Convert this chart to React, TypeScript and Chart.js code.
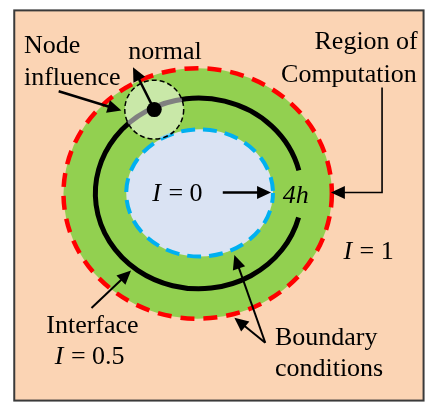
import React, { useEffect, useRef } from "react";
import { Chart, registerables } from "chart.js";

Chart.register(...registerables);

const W = 433;
const H = 410;

// Ellipses: region of computation, interface (I = 0.5), inner region (I = 0)
const ellipseNames = ["Region of Computation", "Interface", "Inner"];
const ellipseCx = [197, 198, 199];
const ellipseCy = [193, 193, 192.5];
const ellipseRx = [139, 107, 76];
const ellipseRy = [130, 99, 66];

// Gap in the interface line (parametric angles, radians) for the "4h" label
const interfaceGap = [-0.245, 0.255];

// Node of influence
const nodeX = [152];
const nodeY = [106];
const nodeR = [30.5];

// Arrows
const arrowNames = ["Node influence", "normal", "Region of Computation", "4h", "Interface", "Boundary outer", "Boundary inner"];
const arrowFromX = [53, 152, 388, 223, 87, 267, 267];
const arrowFromY = [87, 106, 83, 192, 312, 348, 348];
const arrowElbowX = [null, null, 388, null, null, null, null];
const arrowElbowY = [null, null, 192, null, null, null, null];
const arrowToX = [118, 130, 335, 273, 128, 235, 235];
const arrowToY = [107, 62, 192, 192, 273, 322, 257];
const arrowWidth = [2.5, 2.5, 1.6, 2.5, 2, 2, 2];

// Labels
const labelTexts = ["Node", "influence", "normal", "Region of", "Computation", "I", " = 0", "4h", "I", " = 1", "Interface", "I", " = 0.5", "Boundary", "conditions"];
const labelX = [17, 17, 125, 425, 424, 150, 160, 285, 348, 358, 88, 49, 59, 277, 277];
const labelY = [47, 80, 53, 43, 77, 201, 201, 203, 261, 261, 338, 370, 370, 350, 382];
const labelAlign = ["left", "left", "left", "right", "right", "left", "left", "left", "left", "left", "center", "left", "left", "left", "left"];
const labelItalic = [false, false, false, false, false, true, false, true, true, false, false, true, false, false, false];

const FONT = "'Liberation Serif', 'Times New Roman', 'DejaVu Serif', serif";

function drawArrowHead(ctx: CanvasRenderingContext2D, fx: number, fy: number, tx: number, ty: number, len: number, half: number) {
  const ang = Math.atan2(ty - fy, tx - fx);
  ctx.beginPath();
  ctx.moveTo(tx, ty);
  ctx.lineTo(tx - len * Math.cos(ang) + half * Math.sin(ang), ty - len * Math.sin(ang) - half * Math.cos(ang));
  ctx.lineTo(tx - len * Math.cos(ang) - half * Math.sin(ang), ty - len * Math.sin(ang) + half * Math.cos(ang));
  ctx.closePath();
  ctx.fill();
}

const diagramPlugin = {
  id: "diagram",
  beforeDatasetsDraw(chart: any) {
    const ctx: CanvasRenderingContext2D = chart.ctx;
    const xs = chart.scales.x;
    const ys = chart.scales.y;
    const X = (v: number) => xs.getPixelForValue(v);
    const Y = (v: number) => ys.getPixelForValue(v);
    const RX = (c: number, r: number) => Math.abs(X(c + r) - X(c));
    const RY = (c: number, r: number) => Math.abs(Y(c + r) - Y(c));

    ctx.save();
    // frame
    ctx.fillStyle = "#FBD4B4";
    ctx.fillRect(X(7), Y(3), X(431) - X(7), Y(408) - Y(3));
    ctx.strokeStyle = "#3a3a3a";
    ctx.lineWidth = 2;
    ctx.strokeRect(X(7), Y(3), X(431) - X(7), Y(408) - Y(3));

    const ell = (i: number) => {
      ctx.beginPath();
      ctx.ellipse(X(ellipseCx[i]), Y(ellipseCy[i]), RX(ellipseCx[i], ellipseRx[i]), RY(ellipseCy[i], ellipseRy[i]), 0, 0, Math.PI * 2);
    };

    // green region
    ell(0);
    ctx.fillStyle = "#92D050";
    ctx.fill();

    // interface line with gap
    ctx.beginPath();
    ctx.ellipse(X(ellipseCx[1]), Y(ellipseCy[1]), RX(ellipseCx[1], ellipseRx[1]), RY(ellipseCy[1], ellipseRy[1]), 0, interfaceGap[1], Math.PI * 2 + interfaceGap[0]);
    ctx.strokeStyle = "#000";
    ctx.lineWidth = 5;
    ctx.setLineDash([]);
    ctx.stroke();

    // inner region
    ell(2);
    ctx.fillStyle = "#DAE3F3";
    ctx.fill();
    ctx.strokeStyle = "#00B0F0";
    ctx.lineWidth = 4;
    ctx.setLineDash([14, 8]);
    ctx.lineDashOffset = 4;
    ctx.stroke();

    // red boundary
    ell(0);
    ctx.strokeStyle = "#FF0000";
    ctx.lineWidth = 4.5;
    ctx.setLineDash([14, 9]);
    ctx.lineDashOffset = 0;
    ctx.stroke();

    // node influence circle
    const nr = RX(nodeX[0], nodeR[0]);
    ctx.beginPath();
    ctx.arc(X(nodeX[0]), Y(nodeY[0]), nr, 0, Math.PI * 2);
    ctx.fillStyle = "rgba(255,255,255,0.5)";
    ctx.fill();
    ctx.strokeStyle = "#000";
    ctx.lineWidth = 1.5;
    ctx.setLineDash([5, 3]);
    ctx.stroke();
    ctx.setLineDash([]);

    // arrows
    ctx.fillStyle = "#000";
    ctx.strokeStyle = "#000";
    for (let i = 0; i < arrowNames.length; i++) {
      const fx = X(arrowFromX[i]);
      const fy = Y(arrowFromY[i]);
      const tx = X(arrowToX[i]);
      const ty = Y(arrowToY[i]);
      const ex = arrowElbowX[i];
      const ey = arrowElbowY[i];
      const px = ex != null ? X(ex) : fx;
      const py = ey != null ? Y(ey) : fy;
      const ang = Math.atan2(ty - py, tx - px);
      const len = 14;
      ctx.lineWidth = arrowWidth[i];
      ctx.beginPath();
      ctx.moveTo(fx, fy);
      if (ex != null && ey != null) ctx.lineTo(px, py);
      ctx.lineTo(tx - (len - 2) * Math.cos(ang), ty - (len - 2) * Math.sin(ang));
      ctx.stroke();
      drawArrowHead(ctx, px, py, tx, ty, len, 6.5);
    }
    ctx.restore();
  },
  afterDatasetsDraw(chart: any) {
    const ctx: CanvasRenderingContext2D = chart.ctx;
    const xs = chart.scales.x;
    const ys = chart.scales.y;
    ctx.save();
    ctx.fillStyle = "#000";
    ctx.textBaseline = "alphabetic";
    for (let i = 0; i < labelTexts.length; i++) {
      ctx.font = (labelItalic[i] ? "italic " : "normal ") + "26px " + FONT;
      ctx.textAlign = labelAlign[i] as CanvasTextAlign;
      ctx.fillText(labelTexts[i], xs.getPixelForValue(labelX[i]), ys.getPixelForValue(labelY[i]));
    }
    ctx.restore();
  },
};

export default function App() {
  const ref = useRef<HTMLCanvasElement | null>(null);
  useEffect(() => {
    if (!ref.current) return;
    const chart = new Chart(ref.current, {
      type: "scatter",
      data: {
        datasets: [
          {
            label: "Node",
            data: nodeX.map((x, i) => ({ x, y: nodeY[i] })),
            pointRadius: 7.5,
            pointHoverRadius: 7.5,
            backgroundColor: "#000",
            borderColor: "#000",
            borderWidth: 0,
          },
        ],
      },
      options: {
        responsive: false,
        animation: false,
        devicePixelRatio: 1,
        layout: { padding: 0 },
        events: [],
        scales: {
          x: { type: "linear", min: 0, max: W, display: false },
          y: { type: "linear", min: 0, max: H, reverse: true, display: false },
        },
        plugins: { legend: { display: false }, tooltip: { enabled: false } },
      },
      plugins: [diagramPlugin],
    });
    return () => { chart.destroy(); };
  }, []);
  return (
    <div style={{ position: "absolute", left: 0, top: 0, width: W, height: H }}>
      <canvas ref={ref} width={W} height={H} style={{ display: "block" }} />
    </div>
  );
}
